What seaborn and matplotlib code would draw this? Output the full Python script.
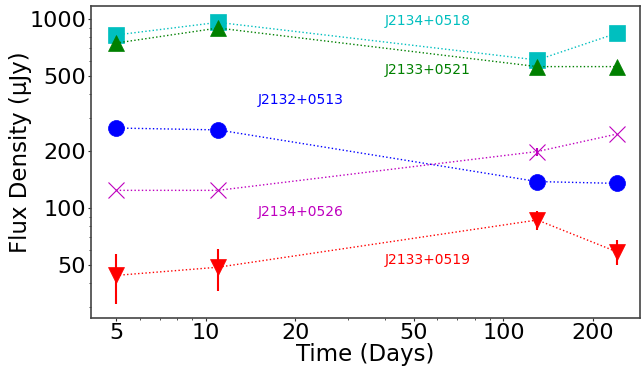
import numpy as np
import pandas as pd
import seaborn as sns
import matplotlib
matplotlib.use("Agg")
import matplotlib.pyplot as plt
from matplotlib.ticker import FixedLocator, FixedFormatter, NullFormatter

sns.set_style("ticks")
plt.rcParams['font.family'] = ['DejaVu Sans']
plt.rcParams['text.color'] = 'black'
plt.rcParams['axes.labelcolor'] = 'black'
plt.rcParams['xtick.color'] = 'black'
plt.rcParams['ytick.color'] = 'black'

# observation epochs (days)
days = [5, 11, 130, 240]

sources = ["J2134+0518", "J2133+0521", "J2132+0513", "J2134+0526", "J2133+0519"]
flux_0518 = [823, 960, 607, 840]
err_0518 = [0, 0, 0, 0]
flux_0521 = [746, 896, 560, 560]
err_0521 = [0, 0, 0, 0]
flux_0513 = [265, 259, 138, 135]
err_0513 = [0, 0, 10, 10]
flux_0526 = [124, 124, 199, 246]
err_0526 = [0, 0, 10, 0]
flux_0519 = [44, 48.6, 86.4, 58.7]
err_0519 = [13, 12, 10, 9]

colors = ["c", "g", "b", "m", "r"]
markers = ["s", "^", "o", "x", "v"]
fluxes = [flux_0518, flux_0521, flux_0513, flux_0526, flux_0519]
errors = [err_0518, err_0521, err_0513, err_0526, err_0519]

# label positions (data coords)
label_x = [55.8, 55.8, 20.8, 20.8, 55.8]
label_y = [975, 537, 373, 95, 53]

fig = plt.figure(figsize=(6.41, 3.71), dpi=100)
ax = fig.add_axes([0.142, 0.143, 0.856, 0.842])

for name, flux, err, col, mk in zip(sources, fluxes, errors, colors, markers):
    df = pd.DataFrame({"day": days, "flux": flux})
    ax.errorbar(days, flux, yerr=err, fmt="none", ecolor=col, elinewidth=1.5, capsize=0)
    sns.lineplot(x="day", y="flux", data=df, ax=ax, color=col, linestyle=":",
                 linewidth=1.0, marker=mk, markersize=11.5,
                 markeredgecolor=col, markeredgewidth=0.8 if mk == "x" else 0.5)

for name, lx, ly, col in zip(sources, label_x, label_y, colors):
    ax.text(lx, ly, name, color=col, fontsize=10, ha="center", va="center")

ax.set_xscale("log")
ax.set_yscale("log")
ax.set_xlim(4.12, 287)
ax.set_ylim(26.2, 1178)

ax.xaxis.set_major_locator(FixedLocator([5, 10, 20, 50, 100, 200]))
ax.xaxis.set_major_formatter(FixedFormatter(["5", "10", "20", "50", "100", "200"]))
ax.xaxis.set_minor_formatter(NullFormatter())
ax.yaxis.set_major_locator(FixedLocator([50, 100, 200, 500, 1000]))
ax.yaxis.set_major_formatter(FixedFormatter(["50", "100", "200", "500", "1000"]))
ax.yaxis.set_minor_formatter(NullFormatter())

ax.tick_params(axis="both", which="major", labelsize=16, length=2.5, pad=1, color="#333333")
ax.tick_params(axis="both", which="minor", length=1.5, color="#333333")
for sp in ax.spines.values():
    sp.set_color("#444444")
    sp.set_linewidth(1.2)

ax.set_xlabel("Time (Days)", fontsize=16.5, labelpad=0)
ax.set_ylabel("Flux Density (μJy)", fontsize=16.5)
ax.yaxis.set_label_coords(-0.108, 0.53)

plt.savefig("out.png", dpi=100)
